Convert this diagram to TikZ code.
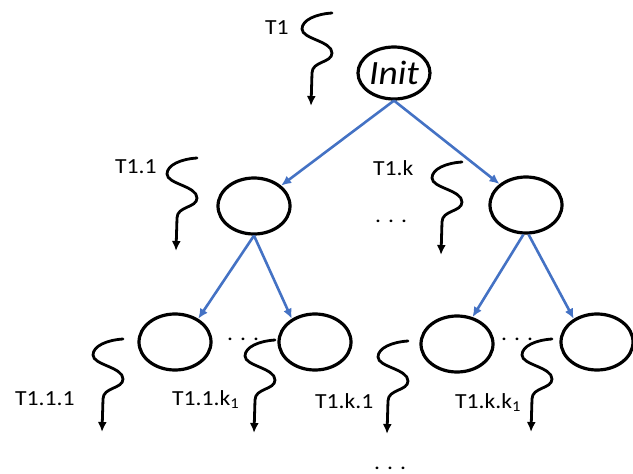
\documentclass[tikz,border=0pt]{standalone}
\usepackage{fontspec}
\setmainfont{Carlito}
\newfontfamily\lblfont[FakeStretch=1.1]{Carlito}
\usetikzlibrary{shapes.geometric,arrows.meta}
\definecolor{officeblue}{RGB}{68,114,196}
\begin{document}
\begin{tikzpicture}[x=1pt,y=-1pt,
  state/.style={ellipse,draw,line width=3.2pt,minimum width=72pt,minimum height=56pt,inner sep=0pt},
  edge/.style={draw=officeblue,line width=2.6pt,-{Latex[length=10pt,width=9pt]}},
  lbl/.style={font=\fontsize{21.5}{24}\lblfont,inner sep=0pt,anchor=base west},
  dotsty/.style={font=\fontsize{21.5}{24}\lblfont,inner sep=0pt,anchor=base west},
  squig/.pic={\draw[line width=2.8pt,line cap=round,-{Latex[length=10pt,width=9pt]}] (0,0) .. controls (-16,1) and (-30,7) .. (-30,16) .. controls (-30,26) and (0,28) .. (0,40) .. controls (0,50) and (-20,48) .. (-20,60) -- (-21,93);}
]
\useasboundingbox (0,0) rectangle (633,474);

% nodes
\node[state,minimum height=52pt,font=\fontsize{34}{38}\lblfont\itshape] (init) at (394,73) {Init};
\node[state] (l1a) at (254,206) {};
\node[state] (l1b) at (526,205) {};
\node[state] (l2a) at (175,342) {};
\node[state] (l2b) at (315,342) {};
\node[state] (l2c) at (457,344) {};
\node[state] (l2d) at (597,342) {};

% blue edges
\draw[edge] (init.south) -- (l1a);
\draw[edge] (init.south) -- (l1b);
\draw[edge] (l1a.south) -- (l2a.45);
\draw[edge] (l1a.south) -- (l2b.135);
\draw[edge] (l1b.265) -- (l2c.60);
\draw[edge] (l1b.275) -- (l2d.135);

% squiggles
\pic at (332,13) {squig};
\pic at (197,158) {squig};
\pic at (462,162) {squig};
\pic at (123,339) {squig};
\pic at (275,340) {squig};
\pic at (408,341) {squig};
\pic at (552,339) {squig};

% labels
\node[lbl] (t1) at (265,34) {T1};
\node[lbl] (t11) at (115,173) {T1.1};
\node[lbl] (t1k) at (373,175) {T1.k};
\node[lbl] (t111) at (15,405) {T1.1.1};
\node[lbl] (t11k) at (172,405) {T1.1.k\textsubscript{1}};
\node[lbl] (t1k1) at (315,408) {T1.k.1};
\node[lbl] (t1kk) at (455,408) {T1.k.k\textsubscript{1}};

% dots
\node[dotsty] (d1) at (375,222) {.\hspace{7pt}.\hspace{7pt}.};
\node[dotsty] (d2) at (227,340) {.\hspace{7pt}.\hspace{7pt}.};
\node[dotsty] (d3) at (501,340) {.\hspace{7pt}.\hspace{7pt}.};
\node[dotsty] (d4) at (374,469) {.\hspace{7pt}.\hspace{7pt}.};
\end{tikzpicture}
\end{document}
